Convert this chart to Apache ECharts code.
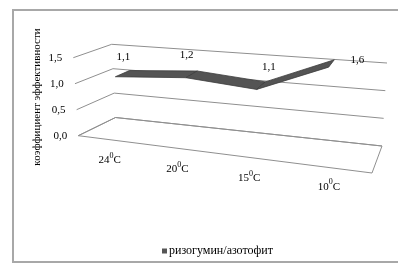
<!DOCTYPE html>
<html>
<head>
<meta charset="utf-8" />
<title>3D line</title>
<script type="text/javascript" src="https://cdn.jsdelivr.net/npm/echarts@6/dist/echarts.min.js"></script>
<style type="text/css">
html, body {
	width: 100%;
	height: 100%;
	margin: 0;
	background: #fff;
}
#main {
	width: 398px;
	height: 264px;
}
</style>
</head>
<body>
<div id="main"></div>
<script type="text/javascript">
var categories = ['24', '20', '15', '10'];
var values = [1.1, 1.2, 1.1, 1.6];
var yTicks = [0, 0.5, 1.0, 1.5];
var seriesName = 'ризогумин/азотофит';
var yTitle = 'коэффициент эффективности';

// hidden axes range, the box spans xMin..xMax
var X_MIN = -0.415, X_MAX = 3.734, Y_MAX = 1.5;

// screen corners of the 3d box: bottom (value 0) and top (value 1.5)
var BOT = {fl: [78.3, 135.7], fr: [372, 173], bl: [115.5, 117.5], br: [382, 146]};
var TOP = {fl: [73.3, 57.7], fr: [378, 83], bl: [111.7, 44.3], br: [387, 63]};
var RIB_FRONT = 0.3, RIB_BACK = 0.7;
var labelNudge = [[1, -2], [-5, -4], [8, -4], [26, 12]];
var catNudge = [2, -1, 0, 9];
var FONT = 'Liberation Serif';

function bilerp(q, u, w) {
    var fx = q.fl[0] + (q.fr[0] - q.fl[0]) * u, fy = q.fl[1] + (q.fr[1] - q.fl[1]) * u;
    var bx = q.bl[0] + (q.br[0] - q.bl[0]) * u, by = q.bl[1] + (q.br[1] - q.bl[1]) * u;
    return [fx + (bx - fx) * w, fy + (by - fy) * w];
}

function project(api, cs, x, y, w) {
    var p = api.coord([x, y]);
    var u = (p[0] - cs.x) / cs.width;
    var t = (cs.y + cs.height - p[1]) / cs.height;
    var b = bilerp(BOT, u, w), tp = bilerp(TOP, u, w);
    return [b[0] + (tp[0] - b[0]) * t, b[1] + (tp[1] - b[1]) * t];
}

function fmt(v) {
    return v.toFixed(1).replace('.', ',');
}

var chart = echarts.init(document.getElementById('main'));

var option = {
    animation: false,
    grid: {left: 0, top: 0, width: 300, height: 150, show: false},
    xAxis: {type: 'value', min: X_MIN, max: X_MAX, show: false},
    yAxis: {type: 'value', min: 0, max: Y_MAX, show: false},
    legend: {
        data: [seriesName],
        left: 157,
        top: 240,
        icon: 'rect',
        itemWidth: 5,
        itemHeight: 5,
        itemGap: 4,
        selectedMode: false,
        textStyle: {fontFamily: FONT, fontSize: 12, color: '#000', padding: [0, 0, 0, -3]}
    },
    graphic: [{
        type: 'rect',
        shape: {x: 13, y: 10, width: 392, height: 252},
        style: {fill: 'none', stroke: '#a8a8a8', lineWidth: 2},
        silent: true
    }, {
        type: 'text',
        x: 37,
        y: 97,
        rotation: Math.PI / 2,
        style: {
            text: yTitle,
            fontFamily: FONT,
            fontSize: 11,
            fill: '#000',
            align: 'center',
            verticalAlign: 'middle'
        },
        silent: true
    }],
    series: [{
        type: 'custom',
        name: 'floor',
        silent: true,
        data: [[X_MIN, 0]],
        renderItem: function (params, api) {
            var cs = params.coordSys;
            var pts = [
                project(api, cs, X_MIN, 0, 0),
                project(api, cs, X_MAX, 0, 0),
                project(api, cs, X_MAX, 0, 1),
                project(api, cs, X_MIN, 0, 1)
            ];
            return {
                type: 'polygon',
                shape: {points: pts},
                style: {fill: '#fff', stroke: '#8f8f8f', lineWidth: 1}
            };
        }
    }, {
        type: 'custom',
        name: 'levels',
        silent: true,
        data: yTicks.map(function (v) { return [X_MIN, v]; }),
        renderItem: function (params, api) {
            var cs = params.coordSys;
            var v = api.value(1);
            var a = project(api, cs, X_MIN, v, 0);
            var b = project(api, cs, X_MIN, v, 1);
            var c = project(api, cs, X_MAX, v, 1);
            return {
                type: 'group',
                children: [{
                    type: 'polyline',
                    shape: {points: [a, b, c]},
                    style: {fill: 'none', stroke: '#8f8f8f', lineWidth: 1}
                }, {
                    type: 'text',
                    x: a[0] - 18,
                    y: a[1],
                    style: {
                        text: fmt(v),
                        fontFamily: FONT,
                        fontSize: 11,
                        fill: '#000',
                        align: 'center',
                        verticalAlign: 'middle'
                    }
                }]
            };
        }
    }, {
        type: 'custom',
        name: seriesName,
        silent: true,
        itemStyle: {color: '#555'},
        data: values.map(function (v, i) { return [i, v]; }),
        renderItem: function (params, api) {
            var cs = params.coordSys;
            var i = params.dataIndex;
            var v = api.value(1);
            var children = [];
            if (i < values.length - 1) {
                var f0 = project(api, cs, i, v, RIB_FRONT);
                var b0 = project(api, cs, i, v, RIB_BACK);
                var f1 = project(api, cs, i + 1, values[i + 1], RIB_FRONT);
                var b1 = project(api, cs, i + 1, values[i + 1], RIB_BACK);
                children.push({
                    type: 'polygon',
                    shape: {points: [f0, f1, b1, b0]},
                    style: {fill: '#545454', stroke: '#3c3c3c', lineWidth: 0.8, lineJoin: 'round'}
                });
            }
            var m = project(api, cs, i, v, 0.5);
            children.push({
                type: 'text',
                z2: 10,
                x: m[0] + labelNudge[i][0],
                y: m[1] - 15 + labelNudge[i][1],
                style: {
                    text: fmt(v),
                    fontFamily: FONT,
                    fontSize: 11,
                    fill: '#000',
                    align: 'center',
                    verticalAlign: 'middle'
                }
            });
            return {type: 'group', children: children};
        }
    }, {
        type: 'custom',
        name: 'cats',
        silent: true,
        data: categories.map(function (c, i) { return [i, 0]; }),
        renderItem: function (params, api) {
            var cs = params.coordSys;
            var i = params.dataIndex;
            var p = project(api, cs, i, 0, 0);
            return {
                type: 'text',
                x: p[0] + catNudge[i],
                y: p[1] + 19,
                style: {
                    text: '{n|' + categories[i] + '}{s|0}{n|C}',
                    align: 'center',
                    verticalAlign: 'middle',
                    rich: {
                        n: {fontFamily: FONT, fontSize: 11, fill: '#000', lineHeight: 14, verticalAlign: 'bottom'},
                        s: {fontFamily: FONT, fontSize: 8, fill: '#000', lineHeight: 14, verticalAlign: 'top'}
                    }
                }
            };
        }
    }]
};

chart.setOption(option);
</script>
</body>
</html>
